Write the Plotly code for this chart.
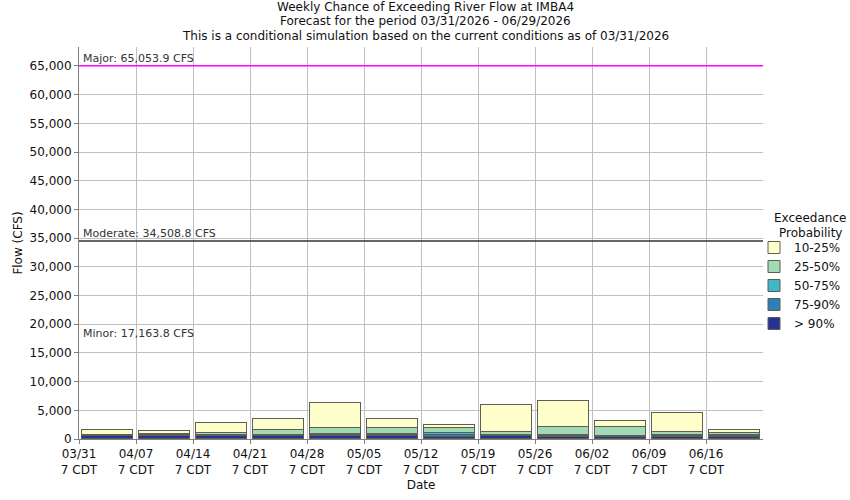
import plotly.graph_objects as go

# ---- data ----
week_labels = ["03/31", "04/07", "04/14", "04/21", "04/28", "05/05",
               "05/12", "05/19", "05/26", "06/02", "06/09", "06/16"]
tz_label = "7 CDT"

# exceedance flows (CFS) at each probability level, per week
p90 = [550, 500, 550, 550, 450, 500, 400, 450, 350, 350, 300, 400]
p75 = [650, 600, 650, 650, 650, 650, 650, 600, 500, 450, 450, 550]
p50 = [720, 700, 750, 750, 870, 870, 1050, 750, 700, 520, 700, 700]
p25 = [780, 950, 1050, 1570, 1860, 1860, 1860, 1300, 2050, 2050, 1170, 1100]
p10 = [1570, 1400, 2740, 3430, 6220, 3430, 2440, 5930, 6680, 3190, 4480, 1520]

major_flow = 65053.9
moderate_flow = 34508.8
minor_flow = 17163.8

title_lines = [
    "Weekly Chance of Exceeding River Flow at IMBA4",
    "Forecast for the period 03/31/2026 - 06/29/2026",
    "This is a conditional simulation based on the current conditions as of 03/31/2026",
]
legend_title_lines = ["Exceedance", "Probability"]

series_names = ["> 90%", "75-90%", "50-75%", "25-50%", "10-25%"]
series_colors = ["#253494", "#2c7fb8", "#41b6c4", "#a1dab4", "#ffffcc"]

# ---- build figure ----
n = len(week_labels)
xpos = [i + 0.5 for i in range(n)]
levels = [p90, p75, p50, p25, p10]
segments = [p90]
for k in range(1, len(levels)):
    segments.append([max(levels[k][i] - levels[k - 1][i], 0) for i in range(n)])

fig = go.Figure()
for name, color, seg in zip(series_names, series_colors, segments):
    fig.add_trace(go.Bar(
        x=xpos, y=seg, name=name, width=0.9,
        marker=dict(color=color, line=dict(color="#5e5e55", width=1)),
    ))

font_family = "DejaVu Sans, Verdana, sans-serif"

thresholds = [
    ("Major", major_flow, "#ff00ff", True),
    ("Moderate", moderate_flow, "#333333", True),
    ("Minor", minor_flow, "#ffffff", False),
]
for label, val, col, draw in thresholds:
    if draw:
        fig.add_shape(type="line", xref="paper", x0=0, x1=1, yref="y", y0=val, y1=val,
                      line=dict(color=col, width=1.5), layer="above")
    fig.add_annotation(xref="paper", x=0.003, yref="y", y=val, text=f"{label}: {val:,.1f} CFS",
                       showarrow=False, xanchor="left", yanchor="bottom", yshift=-1,
                       font=dict(size=11, color="#333333", family=font_family))

plot_w = 850 - 79 - 87
plot_h = 500 - 47 - 61

# title as three stacked lines above the plot area
for i, line in enumerate(title_lines):
    ycenter_px = 7 + 14.5 * i
    fig.add_annotation(xref="paper", x=(425 - 79) / plot_w, yref="paper",
                       y=(439 - ycenter_px) / plot_h, text=line, showarrow=False,
                       xanchor="center", yanchor="middle",
                       font=dict(size=12, family=font_family, color="#111111"))

# centred legend title
for i, line in enumerate(legend_title_lines):
    ycenter_px = 218 + 15 * i
    fig.add_annotation(xref="paper", x=(810 - 79) / plot_w, yref="paper",
                       y=(439 - ycenter_px) / plot_h, text=line, showarrow=False,
                       xanchor="center", yanchor="middle",
                       font=dict(size=12, family=font_family, color="#111111"))

fig.update_layout(
    width=850, height=500,
    barmode="stack", bargap=0,
    paper_bgcolor="white", plot_bgcolor="white",
    font=dict(family=font_family, size=12, color="#111111"),
    margin=dict(l=79, r=87, t=47, b=61, autoexpand=False),
    legend=dict(
        x=(754 - 79) / plot_w, xanchor="left", y=(439 - 233) / plot_h, yanchor="top",
        traceorder="reversed", itemwidth=30,
        font=dict(size=12, family=font_family),
        tracegroupgap=0, bgcolor="rgba(0,0,0,0)",
    ),
    showlegend=True,
)

fig.update_xaxes(
    range=[0, n], tickmode="array", tickvals=list(range(n)),
    ticktext=[f"{d}<br>{tz_label}" for d in week_labels],
    showgrid=True, gridcolor="#c0c0c0", gridwidth=1,
    showline=True, linecolor="#808080", linewidth=1,
    ticks="outside", ticklen=4, tickcolor="#808080",
    zeroline=False,
    title=dict(text="Date", standoff=4, font=dict(size=12)),
)
fig.update_yaxes(
    range=[0, major_flow * 1.05], tickmode="linear", tick0=0, dtick=5000,
    tickformat=",d",
    showgrid=True, gridcolor="#c0c0c0", gridwidth=1,
    showline=True, linecolor="#808080", linewidth=1,
    ticks="outside", ticklen=4, tickcolor="#808080",
    zeroline=False,
    title=dict(text="Flow (CFS)", standoff=4, font=dict(size=12)),
)

fig.write_html("out.html", config={"displayModeBar": False},
               post_script="document.body.style.margin='0';")
